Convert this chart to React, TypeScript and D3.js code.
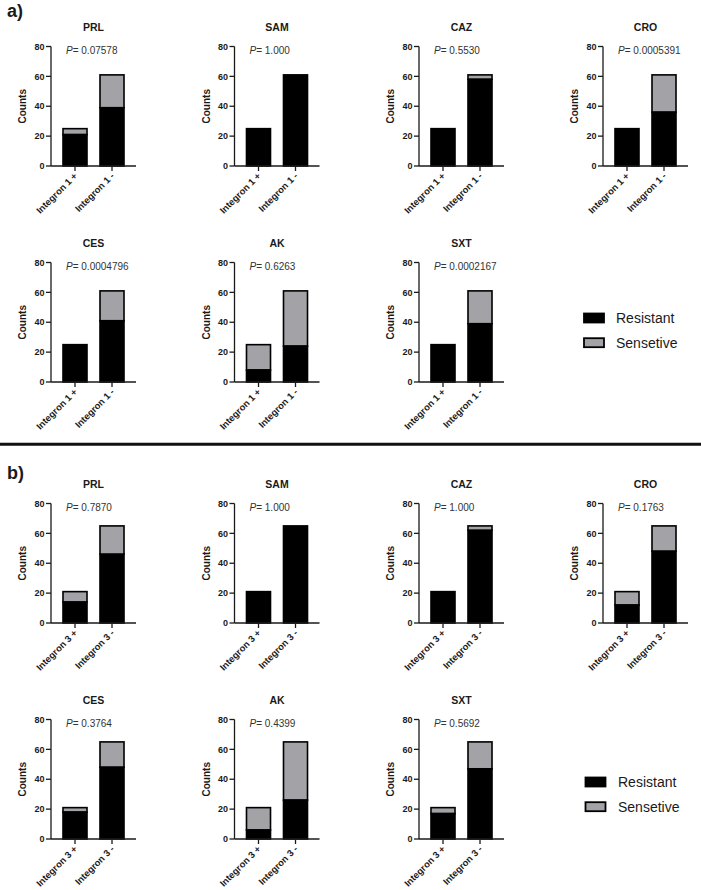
import React from "react";
import * as d3 from "d3";

const antibiotics = ["PRL", "SAM", "CAZ", "CRO", "CES", "AK", "SXT"];

const pValuesA = ["0.07578", "1.000", "0.5530", "0.0005391", "0.0004796", "0.6263", "0.0002167"];
const categoriesA = ["Integron 1 +", "Integron 1 -"];
const resistantPosA = [21, 25, 25, 25, 25, 8, 25];
const sensitivePosA = [4, 0, 0, 0, 0, 17, 0];
const resistantNegA = [39, 61, 58, 36, 41, 24, 39];
const sensitiveNegA = [22, 0, 3, 25, 20, 37, 22];

const pValuesB = ["0.7870", "1.000", "1.000", "0.1763", "0.3764", "0.4399", "0.5692"];
const categoriesB = ["Integron 3 +", "Integron 3 -"];
const resistantPosB = [14, 21, 21, 12, 18, 6, 17];
const sensitivePosB = [7, 0, 0, 9, 3, 15, 4];
const resistantNegB = [46, 65, 62, 48, 48, 26, 47];
const sensitiveNegB = [19, 0, 3, 17, 17, 39, 18];

const yTicks = [0, 20, 40, 60, 80];
const legendLabels = ["Resistant", "Sensetive"];

const FONT = "'Liberation Sans', Arial, Helvetica, sans-serif";
const GRAY = "#a2a2a7";
const INK = "#1a1a1a";

const colX = [51, 234.5, 419, 603];
const rowBottoms = [166, 382, 623, 839];
const PLOT_H = 119.5;
const PLOT_W = 85;

type PanelProps = {
  x0: number;
  yBottom: number;
  title: string;
  p: string;
  cats: string[];
  res: number[];
  sens: number[];
};

function Panel({ x0, yBottom, title, p, cats, res, sens }: PanelProps) {
  const y = d3.scaleLinear().domain([0, 80]).range([yBottom, yBottom - PLOT_H]);
  const x = d3
    .scaleBand<string>()
    .domain(cats)
    .range([x0, x0 + PLOT_W])
    .paddingInner(0.351)
    .paddingOuter(0.324);
  const bw = x.bandwidth();
  return (
    <g>
      <text
        x={x0 + PLOT_W / 2}
        y={yBottom - PLOT_H - 15.5}
        textAnchor="middle"
        fontFamily={FONT}
        fontWeight="bold"
        fontSize={10.5}
        fill={INK}
      >
        {title}
      </text>
      <text x={x0 + 15} y={yBottom - PLOT_H + 7.8} fontFamily={FONT} fontSize={10} fill="#333">
        <tspan fontStyle="italic">P</tspan>= {p}
      </text>
      {cats.map((c, i) => {
        const bx = x(c)!;
        const r = res[i];
        const s = sens[i];
        return (
          <g key={c}>
            {s > 0 && (
              <rect
                x={bx}
                y={y(r + s)}
                width={bw}
                height={y(r) - y(r + s)}
                fill={GRAY}
                stroke="#000"
                strokeWidth={1.6}
              />
            )}
            <rect
              x={bx}
              y={y(r)}
              width={bw}
              height={y(0) - y(r)}
              fill="#000"
              stroke="#000"
              strokeWidth={1.6}
            />
          </g>
        );
      })}
      {/* y axis */}
      <line x1={x0} x2={x0} y1={y(80)} y2={y(0)} stroke={INK} strokeWidth={1.3} />
      {yTicks.map((t) => (
        <g key={t}>
          <line x1={x0 - 5} x2={x0} y1={y(t)} y2={y(t)} stroke={INK} strokeWidth={1.3} />
          <text
            x={x0 - 6.5}
            y={y(t)}
            dy="0.35em"
            textAnchor="end"
            fontFamily={FONT}
            fontWeight="bold"
            fontSize={9}
            fill={INK}
          >
            {t}
          </text>
        </g>
      ))}
      <text
        transform={`translate(${x0 - 25},${yBottom - PLOT_H / 2}) rotate(-90)`}
        textAnchor="middle"
        fontFamily={FONT}
        fontWeight="bold"
        fontSize={10}
        fill={INK}
      >
        Counts
      </text>
      {/* x axis */}
      <line x1={x0} x2={x0 + PLOT_W} y1={yBottom} y2={yBottom} stroke={INK} strokeWidth={1.3} />
      {cats.map((c) => {
        const cx = x(c)! + bw / 2;
        return (
          <g key={"t" + c}>
            <line x1={cx} x2={cx} y1={yBottom} y2={yBottom + 5} stroke={INK} strokeWidth={1.3} />
            <text
              transform={`translate(${cx + 3},${yBottom + 10.5}) rotate(-45)`}
              textAnchor="end"
              fontFamily={FONT}
              fontWeight="bold"
              fontSize={9.4}
              fill={INK}
            >
              {c}
            </text>
          </g>
        );
      })}
    </g>
  );
}

function Legend({ x, y, textX }: { x: number; y: number; textX: number }) {
  const fills = ["#000", GRAY];
  return (
    <g>
      {legendLabels.map((l, i) => (
        <g key={l}>
          <rect
            x={x}
            y={y + i * 24.7}
            width={20}
            height={9}
            fill={fills[i]}
            stroke="#000"
            strokeWidth={1.8}
          />
          <text
            x={textX}
            y={y + i * 24.7 + 9.5}
            fontFamily={FONT}
            fontSize={14}
            fill={INK}
          >
            {l}
          </text>
        </g>
      ))}
    </g>
  );
}

function Section({
  rowStart,
  cats,
  pv,
  rp,
  sp,
  rn,
  sn,
}: {
  rowStart: number;
  cats: string[];
  pv: string[];
  rp: number[];
  sp: number[];
  rn: number[];
  sn: number[];
}) {
  return (
    <g>
      {antibiotics.map((ab, i) => {
        const row = rowStart + Math.floor(i / 4);
        const col = i % 4;
        return (
          <Panel
            key={ab}
            x0={colX[col]}
            yBottom={rowBottoms[row]}
            title={ab}
            p={pv[i]}
            cats={cats}
            res={[rp[i], rn[i]]}
            sens={[sp[i], sn[i]]}
          />
        );
      })}
    </g>
  );
}

export default function App() {
  return (
    <svg
      width={701}
      height={890}
      style={{ position: "absolute", left: 0, top: 0, background: "#fff" }}
    >
      <rect width={701} height={890} fill="#fff" />
      <text x={7} y={17} fontFamily={FONT} fontWeight="bold" fontSize={18} fill={INK}>
        a)
      </text>
      <text x={7} y={479} fontFamily={FONT} fontWeight="bold" fontSize={18} fill={INK}>
        b)
      </text>
      <line x1={0} x2={701} y1={444.3} y2={444.3} stroke="#111" strokeWidth={3} />
      <Section
        rowStart={0}
        cats={categoriesA}
        pv={pValuesA}
        rp={resistantPosA}
        sp={sensitivePosA}
        rn={resistantNegA}
        sn={sensitiveNegA}
      />
      <Section
        rowStart={2}
        cats={categoriesB}
        pv={pValuesB}
        rp={resistantPosB}
        sp={sensitivePosB}
        rn={resistantNegB}
        sn={sensitiveNegB}
      />
      <Legend x={584} y={313.5} textX={616} />
      <Legend x={585.5} y={777.5} textX={618} />
    </svg>
  );
}
